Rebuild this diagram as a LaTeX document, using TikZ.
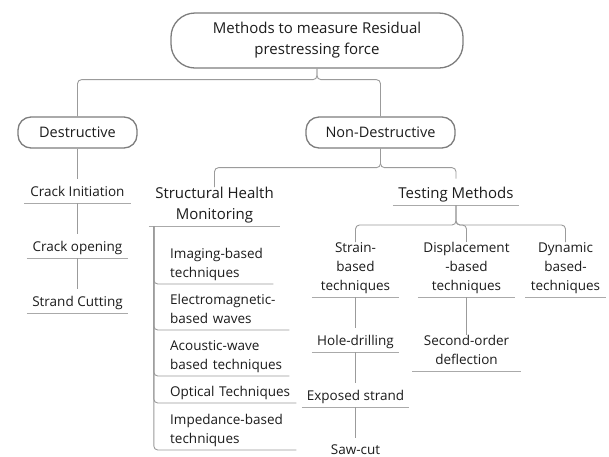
\documentclass[tikz,border=0pt]{standalone}
\usepackage{fontspec}
\setmainfont{Open Sans}
\definecolor{ink}{RGB}{28,28,28}
\definecolor{boxline}{RGB}{125,125,125}
\definecolor{wire}{RGB}{155,155,155}
\definecolor{ulcolor}{RGB}{170,170,170}
\begin{document}
\begin{tikzpicture}[x=1pt,y=-1pt,
  every node/.style={font=\fontsize{13.5}{19}\selectfont, text=ink},
  big/.style={font=\fontsize{15}{20.5}\selectfont},
  pill/.style={draw=boxline, line width=1.3pt, fill=white, align=center, inner sep=0pt},
  item/.style={align=center, inner xsep=0pt, inner ysep=0pt, anchor=south,
    execute at begin node={\rule{0pt}{#1}},
    execute at end node={\rule[-6.5pt]{0pt}{6.5pt}}},
  item/.default=17pt,
  leaf/.style={align=center, inner sep=0pt, anchor=north,
    execute at begin node={\rule{0pt}{#1}}},
  child/.style={align=left, inner sep=0pt, anchor=south west,
    execute at begin node={\noindent},
    execute at end node={\rule[-6.5pt]{0pt}{6.5pt}}},
  conn/.style={draw=wire, line width=0.9pt, rounded corners=4pt},
  uline/.style={draw=ulcolor, line width=0.9pt}]
\fill[white] (0,0) rectangle (609,456);
\useasboundingbox (0,0) rectangle (609,456);

% top level
\node[pill, big, minimum width=292pt, minimum height=55pt, rounded corners=24pt,
  font=\fontsize{15}{21}\selectfont] (root) at (317,40.5)
  {Methods to measure Residual\\prestressing force};
\node[pill, minimum width=119pt, minimum height=31pt, rounded corners=13pt,
  font=\fontsize{14.5}{19}\selectfont] (dest) at (77.5,132.5) {Destructive};
\node[pill, minimum width=149pt, minimum height=31pt, rounded corners=13pt,
  font=\fontsize{14.5}{19}\selectfont] (nondest) at (380.5,132.5) {Non-Destructive};

% destructive methods
\node[item, minimum width=106pt] (ci) at (77.5,203) {Crack Initiation};
\node[item, minimum width=101pt] (co) at (77.5,258) {Crack opening};
\node[item, minimum width=101pt] (sc) at (77.5,313) {Strand Cutting};

% non-destructive branches
\node[item=19.5pt, big, minimum width=131pt] (shm) at (214.5,226) {Structural Health\\Monitoring};
\node[item=19.5pt, big, minimum width=126pt] (tm) at (456,205) {Testing Methods};

% structural health monitoring
\node[child, text width=103pt] (img) at (170,284) {Imaging-based\\techniques};
\node[child, text width=119pt] (em) at (170,330) {Electromagnetic-\\based waves};
\node[child, text width=119pt] (ac) at (170,376) {Acoustic-wave\\based techniques};
\node[child, text width=126pt] (op) at (170,403) {Optical Techniques};
\node[child, text width=126pt] (imp) at (170,450) {Impedance-based\\techniques};

% testing methods
\node[item, minimum width=87pt] (strain) at (355.5,297) {Strain-\\based\\techniques};
\node[item, minimum width=97pt] (disp) at (466.5,297) {Displacement\\-based\\techniques};
\node[item, minimum width=80pt] (dyn) at (565.5,297) {Dynamic\\based-\\techniques};
\node[item=17.5pt, minimum width=87pt] (hd) at (355.5,352) {Hole-drilling};
\node[item=17.5pt, minimum width=107pt] (es) at (355.5,407) {Exposed strand};
\node[leaf=16pt] (saw) at (355.5,438) {Saw-cut};
\node[item=17.5pt, minimum width=108pt] (so) at (466.5,371) {Second-order\\deflection};

% underlines
\foreach \n in {ci,co,sc,shm,tm,strain,disp,dyn,hd,es,so}
  \draw[uline] (\n.south west) -- (\n.south east);

% connectors
\draw[conn] (root.south) -- ++(0,11) -| (dest.north);
\draw[conn] (root.south) -- ++(0,11) -| (nondest.north);
\draw[conn] (dest.south) -- (ci.north);
\draw[conn] (ci.south) -- (co.north);
\draw[conn] (co.south) -- (sc.north);
\draw[conn] (nondest.south) -- ++(0,19) -| (shm.north);
\draw[conn] (nondest.south) -- ++(0,19) -| (tm.north);
\foreach \c in {img,em,ac,op,imp}
  \draw[conn] ([xshift=5pt]shm.south west) |- (\c.south east);
\draw[conn] (tm.south) -- ++(0,20) -| (strain.north);
\draw[conn] (tm.south) -- ++(0,20) -| (disp.north);
\draw[conn] (tm.south) -- ++(0,20) -| (dyn.north);
\draw[conn] (strain.south) -- (hd.north);
\draw[conn] (hd.south) -- (es.north);
\draw[conn] (es.south) -- (saw.north);
\draw[conn] (disp.south) -- (so.north);
\end{tikzpicture}
\end{document}
